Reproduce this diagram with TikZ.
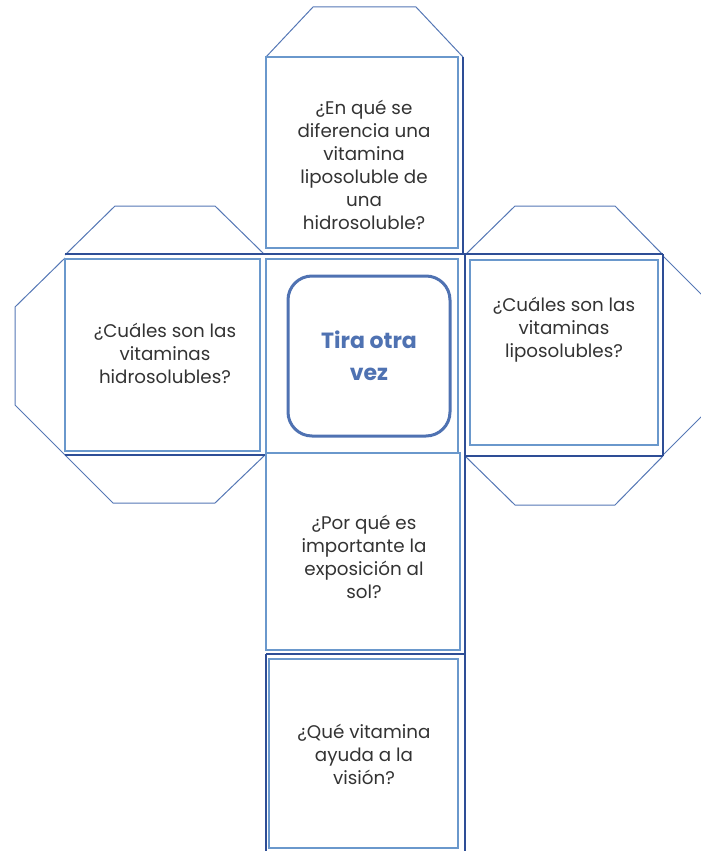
\documentclass[tikz,border=0pt]{standalone}
\usepackage{fontspec}
\setmainfont{Poppins}
\definecolor{darkb}{HTML}{2E4E96}
\definecolor{lightb}{HTML}{6A98CC}
\definecolor{flapb}{HTML}{5577B5}
\definecolor{txt}{HTML}{333333}
\definecolor{tira}{HTML}{4F72B2}
\tikzset{
  qtext/.style={align=center, text=txt, font=\fontsize{18.3}{23}\selectfont},
  darkline/.style={draw=darkb, line width=2.2pt},
  lightline/.style={draw=lightb, line width=1.2pt},
  flap/.style={draw=flapb, line width=1pt},
}
\begin{document}
\begin{tikzpicture}[x=1pt,y=-1pt]
\useasboundingbox (0,0) rectangle (701,851);
\clip (0,0) rectangle (701,851);
% flaps
\draw[flap] (266,57) -- (313,7) -- (416,7) -- (463,57);
\draw[flap] (65,255) -- (115,206) -- (215,206) -- (264,254);
\draw[flap] (65,258) -- (15,307) -- (15,405) -- (65,455);
\draw[flap] (65,455) -- (113,503) -- (215,503) -- (265,455);
\draw[flap] (465,255) -- (515,206) -- (615,206) -- (663,255);
\draw[flap] (663,256) -- (713,306) -- (713,405) -- (663,455);
\draw[flap] (465,456) -- (515,505) -- (615,505) -- (663,456);
% face outlines (light)
\draw[lightline] (266,57) rectangle (458,248);
\draw[lightline] (266,259) rectangle (458,453);
\draw[lightline] (65,259) rectangle (260,451);
\draw[lightline] (470,260) rectangle (658,445);
\draw[lightline] (266,453) rectangle (460,650);
\draw[lightline] (269,659) rectangle (458,848);
% dark lines
\draw[darkline] (463,57) -- (463,254);
\draw[darkline] (65,254) -- (663,254);
\draw[darkline] (65,455) -- (265,455);
\draw[darkline] (465,456) -- (663,456);
\draw[darkline] (663,254) -- (663,456);
\draw[darkline] (465,254) -- (465,851);
\draw[darkline] (266,654) -- (465,654);
\draw[darkline] (266,654) -- (266,851);
% text nodes
\node[qtext] (qtop) at (364,165)
  {¿En qué se\\diferencia una\\vitamina\\liposoluble de\\una\\hidrosoluble?};
\node[qtext] (qleft) at (165,353)
  {¿Cuáles son las\\vitaminas\\hidrosolubles?};
\node[qtext] (qright) at (564,330)
  {¿Cuáles son las\\vitaminas\\liposolubles?};
\node[qtext] (qsun) at (364,557)
  {¿Por qué es\\importante la\\exposición al\\sol?};
\node[qtext] (qvis) at (364,754)
  {¿Qué vitamina\\ayuda a la\\visión?};
\node[draw=tira, line width=3pt, rounded corners=24pt, minimum width=162pt, minimum height=160pt,
  align=center, text=tira, font=\fontsize{22}{32}\selectfont\bfseries] (center) at (369,356)
  {Tira otra\\vez};
\end{tikzpicture}
\end{document}
